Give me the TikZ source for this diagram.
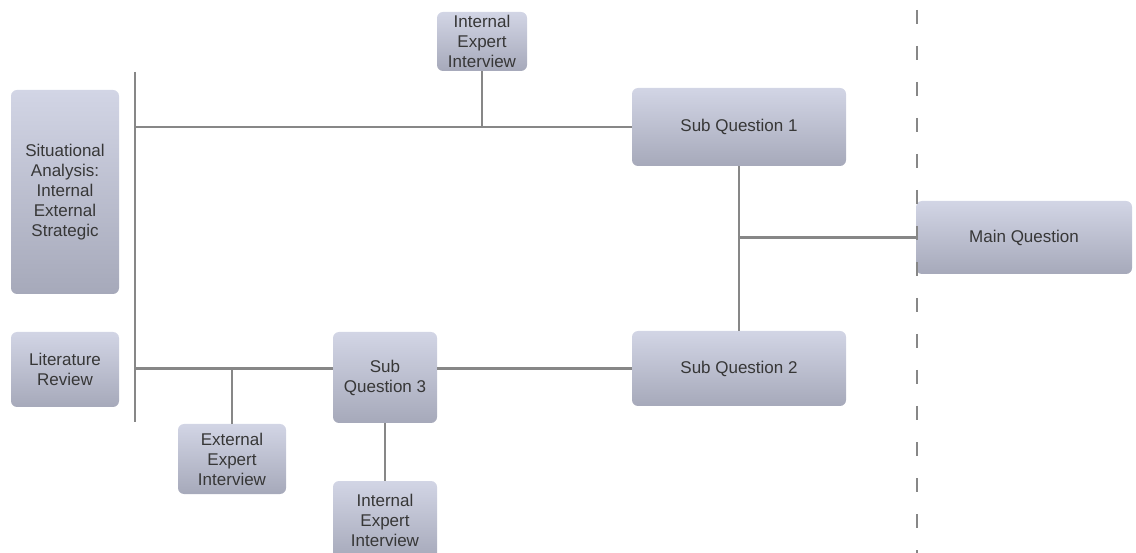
\documentclass[tikz,border=0pt]{standalone}
\usepackage{fontspec}
\setmainfont{Liberation Sans}
\definecolor{boxtop}{RGB}{210,213,229}
\definecolor{boxbot}{RGB}{166,169,186}
\definecolor{linegray}{RGB}{135,135,135}
\definecolor{txtgray}{RGB}{55,55,55}
\begin{document}
\begin{tikzpicture}[x=1pt,y=-1pt,
	qbox/.style={rectangle, rounded corners=6pt, top color=boxtop, bottom color=boxbot, draw=none, text=txtgray, align=center, inner sep=0pt, font=\fontsize{17}{20}\selectfont},
	link/.style={draw=linegray, line width=2.4pt}]
	\useasboundingbox (0,0) rectangle (1136,553);

	\node 	(sit)	at	(65,192) 	[qbox, minimum width=108, minimum height=204]{Situational\\Analysis:\\Internal\\External\\Strategic};
	\node 	(lit)	at	(65,369.5) 	[qbox, minimum width=108, minimum height=75]{Literature\\Review};

	\node 	(iei1)	at	(482,41.5) 	[qbox, minimum width=90, minimum height=59]{Internal\\Expert\\Interview};
	\node 	(sq1)	at	(739,127) 	[qbox, minimum width=214, minimum height=78]{Sub Question 1};
	\node 	(sq2)	at	(739,368.5) 	[qbox, minimum width=214, minimum height=75]{Sub Question 2};
	\node 	(sq3)	at	(385,377.5) 	[qbox, minimum width=104, minimum height=91]{Sub\\Question 3};
	\node 	(eei)	at	(232,459) 	[qbox, minimum width=108, minimum height=70]{External\\Expert\\Interview};
	\node 	(iei2)	at	(385,520) 	[qbox, minimum width=104, minimum height=78]{Internal\\Expert\\Interview};
	\node 	(mq)	at	(1024,237.5) 	[qbox, minimum width=216, minimum height=73]{Main Question};

	\coordinate (bartop) at (135,72);
	\coordinate (barbot) at (135,422);
	\coordinate (dashtop) at (917,10);
	\coordinate (dashbot) at (917,553);

	% left bar and the two main lines
	\draw[link] (bartop) -- (barbot);
	\draw[link] (bartop |- sq1.west) -- (sq1.west);
	\draw[link] (iei1.south) -- (iei1.south |- sq1.west);
	\draw[link] (barbot |- sq2.west) -- (sq3.west |- sq2.west);
	\draw[link] (sq3.east |- sq2.west) -- (sq2.west);
	\draw[link] (eei.north) -- (eei.north |- sq2.west);
	\draw[link] (sq3.south) -- (iei2.north);

	% sub questions to main question
	\draw[link] (sq1.south) -- (sq2.north);
	\draw[link] (sq1.south |- mq.west) -- (mq.west);
	\draw[link, dash pattern=on 14pt off 22pt] (dashtop) -- (dashbot);

\end{tikzpicture}
\end{document}
